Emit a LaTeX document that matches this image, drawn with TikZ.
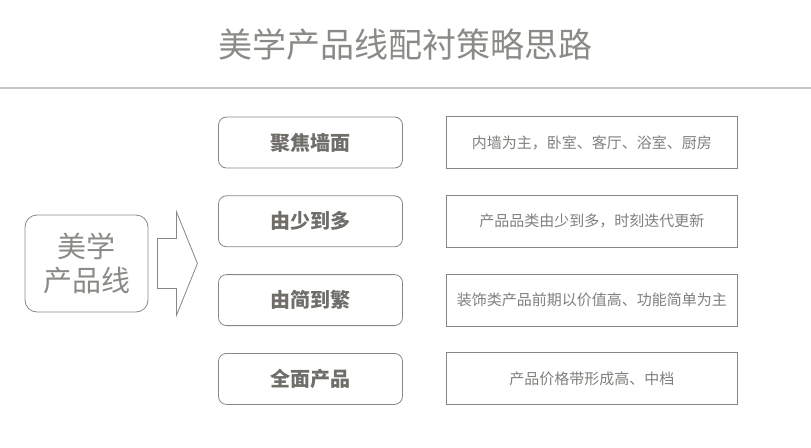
\documentclass[tikz,border=0pt]{standalone}
\usepackage{fontspec}
\setmainfont{Noto Sans CJK SC}
\usepackage{tikz}
\usetikzlibrary{positioning, calc}
\definecolor{titlegray}{RGB}{140,138,134}
\definecolor{rulegray}{RGB}{200,199,195}
\definecolor{boxborder}{RGB}{138,135,130}
\definecolor{stepgray}{RGB}{111,110,105}
\definecolor{descgray}{RGB}{128,127,124}
\tikzset{
    stepbox/.style={rectangle, rounded corners=8pt, minimum width=184pt, minimum height=51pt, draw=boxborder, line width=0.8pt, text=stepgray, font=\fontsize{20}{24}\selectfont\bfseries, align=center},
    descbox/.style={rectangle, minimum width=291pt, minimum height=52pt, draw=boxborder, line width=1pt, text=descgray, font=\fontsize{15}{18}\selectfont, align=center},
}

\begin{document}
\begin{tikzpicture}[
    x=1pt, y=-1pt,
    node distance=27pt,
    headline/.style={font=\fontsize{34}{40}\selectfont, text=titlegray},
    sourcebox/.style={rectangle, rounded corners=12pt, minimum width=123pt, minimum height=97pt, draw=boxborder, line width=0.8pt, text=titlegray, font=\fontsize{29}{34}\selectfont, align=center},
    blockarrow/.style={draw=boxborder, line width=0.8pt, fill=white, line join=miter}
]
\useasboundingbox (0,0) rectangle (811,447);

% Title and rule
\node[headline] (title) at (405.5,45) {美学产品线配衬策略思路};
\draw[rulegray, line width=1.2pt] (0,88) -- (811,88);

% Left source box
\node[sourcebox] (source) at (86.5,263.5) {美学\\产品线};

% Block arrow
\coordinate (arrow-base) at ([xshift=9pt]source.east);
\draw[blockarrow] (arrow-base) ++(0,-25) -- ++(19,0) -- ++(0,-27) -- ++(21,52) -- ++(-21,52) -- ++(0,-27) -- ++(-19,0) -- cycle;

% Strategy steps
\node[stepbox] (step1) at (310.5,142.5) {聚焦墙面};
\node[stepbox, below=27pt of step1] (step2) {由少到多};
\node[stepbox, below=27pt of step2] (step3) {由简到繁};
\node[stepbox, below=27pt of step3] (step4) {全面产品};

% Descriptions
\node[descbox, right=43pt of step1] (desc1) {内墙为主，卧室、客厅、浴室、厨房};
\node[descbox, right=43pt of step2] (desc2) {产品品类由少到多，时刻迭代更新};
\node[descbox, right=43pt of step3] (desc3) {装饰类产品前期以价值高、功能简单为主};
\node[descbox, right=43pt of step4] (desc4) {产品价格带形成高、中档};

\end{tikzpicture}
\end{document}
